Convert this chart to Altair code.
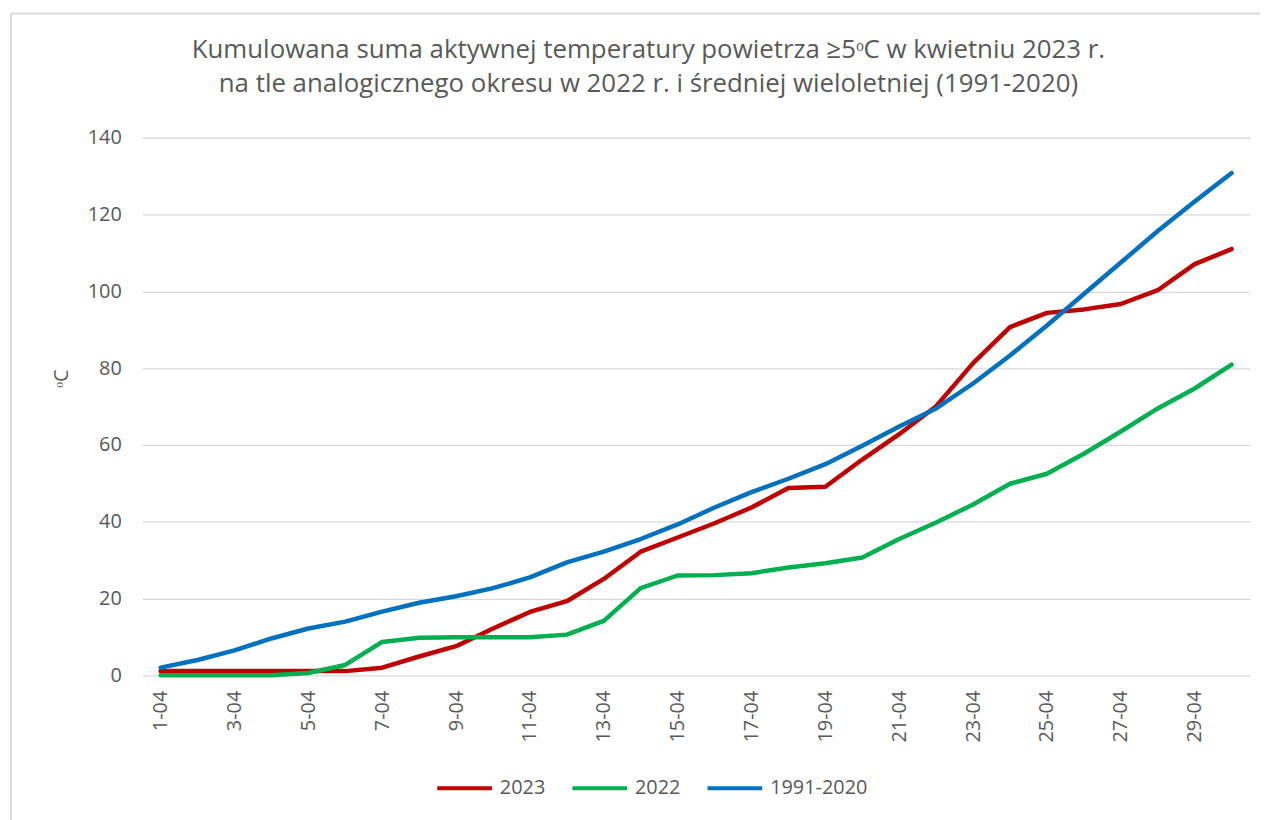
import altair as alt
import pandas as pd

dates = ["1-04", "2-04", "3-04", "4-04", "5-04", "6-04", "7-04", "8-04", "9-04", "10-04",
         "11-04", "12-04", "13-04", "14-04", "15-04", "16-04", "17-04", "18-04", "19-04", "20-04",
         "21-04", "22-04", "23-04", "24-04", "25-04", "26-04", "27-04", "28-04", "29-04", "30-04"]

s2023 = [1.1, 1.1, 1.1, 1.1, 1.1, 1.1, 2.0, 4.9, 7.6, 12.2,
         16.5, 19.3, 25.1, 32.2, 35.9, 39.6, 43.7, 48.8, 49.1, 56.2,
         62.8, 70.1, 81.3, 90.7, 94.4, 95.3, 96.7, 100.3, 107.1, 111.0]

s2022 = [0.0, 0.0, 0.0, 0.0, 0.6, 2.7, 8.7, 9.8, 9.9, 9.9,
         9.9, 10.6, 14.2, 22.7, 26.0, 26.1, 26.6, 28.1, 29.2, 30.7,
         35.5, 39.8, 44.5, 49.9, 52.5, 57.7, 63.5, 69.5, 74.7, 80.9]

snorm = [2.0, 4.0, 6.5, 9.6, 12.2, 14.0, 16.6, 18.9, 20.6, 22.7,
         25.5, 29.4, 32.2, 35.5, 39.3, 43.7, 47.7, 51.2, 55.0, 59.8,
         64.8, 69.5, 76.0, 83.3, 91.1, 99.3, 107.5, 115.7, 123.4, 130.8]

series_names = ["2023", "2022", "1991-2020"]
series_colors = ["#C00000", "#00B050", "#0070C0"]
y_ticks = [0, 20, 40, 60, 80, 100, 120, 140]
x_tick_labels = dates[::2]

rows = []
for name, vals in zip(series_names, [s2023, s2022, snorm]):
    for d, v in zip(dates, vals):
        rows.append({"data": d, "seria": name, "wartosc": v})
df = pd.DataFrame(rows)

FONT = "Open Sans"
GREY = "#595959"

lines = alt.Chart(df).mark_line(strokeWidth=4.5, strokeCap="round", strokeJoin="round").encode(
    x=alt.X("data:O", sort=dates,
            scale=alt.Scale(type="point", padding=0.5),
            axis=alt.Axis(values=x_tick_labels, labelAngle=-90, labelAlign="right",
                          labelBaseline="middle", labelPadding=15, ticks=False,
                          domain=False, grid=False, title=None,
                          labelFontSize=20, labelColor=GREY, labelFont=FONT)),
    y=alt.Y("wartosc:Q",
            scale=alt.Scale(domain=[0, 140], nice=False),
            axis=alt.Axis(values=y_ticks, ticks=False, domain=False, grid=True,
                          gridColor="#D9D9D9", gridWidth=1.3, labelPadding=21,
                          labelFontSize=20, labelColor=GREY, labelFont=FONT,
                          title="ᵒC", titleFontSize=20, titleColor=GREY, titleFont=FONT,
                          titleFontWeight="normal", titleX=-81, titleY=242,
                          titleBaseline="middle", titleAlign="center")),
    color=alt.Color("seria:N", sort=series_names,
                    scale=alt.Scale(domain=series_names, range=series_colors),
                    legend=alt.Legend(orient="none", legendX=295, legendY=625,
                                      direction="horizontal", title=None,
                                      symbolType="stroke", symbolSize=3025,
                                      symbolStrokeWidth=4, labelFontSize=20,
                                      labelColor=GREY, labelFont=FONT, labelOffset=6,
                                      columnPadding=19)),
)

frame_df = pd.DataFrame({"k": [0]})
frame_top = alt.Chart(frame_df).mark_rule(color="#D9D9D9", strokeWidth=2).encode(
    x=alt.value(-132), x2=alt.value(1200), y=alt.value(-125))
frame_left = alt.Chart(frame_df).mark_rule(color="#D9D9D9", strokeWidth=2).encode(
    x=alt.value(-132), y=alt.value(-125), y2=alt.value(700))

chart = alt.layer(frame_top, frame_left, lines).properties(
    width=1115,
    height=541,
    autosize=alt.AutoSizeParams(type="none"),
    padding={"left": 135, "top": 128, "right": 10, "bottom": 143},
    title=alt.TitleParams(
        text=["Kumulowana suma aktywnej temperatury powietrza ≥5ᵒC w kwietniu 2023 r.",
              "na tle analogicznego okresu w 2022 r. i średniej wieloletniej (1991-2020)"],
        font=FONT, fontSize=26, fontWeight="normal", color=GREY,
        anchor="middle", dx=-48, dy=123, offset=38, lineHeight=34),
).configure_view(stroke=None)

chart.save("out.html", embed_options={"renderer": "svg", "actions": False})
